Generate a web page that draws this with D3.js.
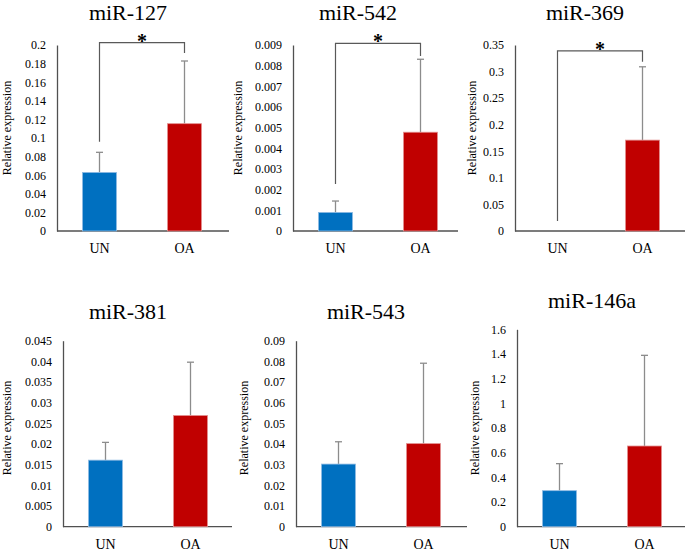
<!DOCTYPE html>
<html>
<head>
<meta charset="utf-8">
<script src="https://cdn.jsdelivr.net/npm/d3@7"></script>
<style>
  body { margin: 0; background: #fff; }
</style>
</head>
<body>
<div id="container"></div>
<script>
// values
var genes = ["miR-127", "miR-542", "miR-369", "miR-381", "miR-543", "miR-146a"];
var groups = ["UN", "OA"];
var unMean = [0.063, 0.0009, 0, 0.0161, 0.0303, 0.292];
var unErr  = [0.0216, 0.00055, 0, 0.0043, 0.0108, 0.219];
var oaMean = [0.1154, 0.00478, 0.171, 0.0269, 0.0402, 0.654];
var oaErr  = [0.0674, 0.00353, 0.138, 0.0129, 0.0389, 0.735];
var yMax   = [0.2, 0.009, 0.35, 0.045, 0.09, 1.6];
var yStep  = [0.02, 0.001, 0.05, 0.005, 0.01, 0.2];
// significance bracket: level, left leg end, right leg end (null = none)
var sigLevel = [0.2025, 0.00908, 0.339, null, null, null];
var sigLeft  = [0.096, 0.00227, 0.0188, null, null, null];
var sigRight = [0.1914, 0.00847, 0.3186, null, null, null];

var FONT = "Liberation Serif";
var colors = { UN: "#0070c0", OA: "#c00000" };
var edges  = { UN: "#8fbbe3", OA: "#e38f8f" };

// panel placement
var panels = [
  { ax: 57,  top: 45,    bottom: 231,   xEnd: 229, titleX: 128, titleY: 20,  labX: 10.5, labY: 128 },
  { ax: 293, top: 45,    bottom: 231,   xEnd: 458, titleX: 358, titleY: 20,  labX: 242,  labY: 128 },
  { ax: 515, top: 45,    bottom: 231,   xEnd: 685, titleX: 585, titleY: 20,  labX: 476,  labY: 128 },
  { ax: 63,  top: 340.7, bottom: 526.7, xEnd: 232, titleX: 128, titleY: 319, labX: 10.5, labY: 428 },
  { ax: 296, top: 340.7, bottom: 526.7, xEnd: 467, titleX: 366, titleY: 319, labX: 248,  labY: 428 },
  { ax: 517, top: 329.3, bottom: 526.7, xEnd: 685, titleX: 592, titleY: 308, labX: 479,  labY: 428 }
];

var svg = d3.select('#container')
  .append('svg')
  .attr('width', 685)
  .attr('height', 557)
  .attr('font-family', FONT);

svg.append('rect').attr('width', 685).attr('height', 557).attr('fill', '#fff');

var fmt = function(v) { return String(+v.toFixed(4)); };

genes.forEach(function(gene, i) {
  var p = panels[i];
  var g = svg.append('g');

  var y = d3.scaleLinear().domain([0, yMax[i]]).range([p.bottom, p.top]);
  var x = d3.scaleBand().domain(groups)
    .range([p.ax, p.ax + 170])
    .paddingInner(0.6).paddingOuter(0.3);

  var ticks = d3.range(0, yMax[i] + yStep[i] / 2, yStep[i]);

  // y axis
  var yAxis = g.append('g')
    .attr('transform', 'translate(' + p.ax + ',0)')
    .call(d3.axisLeft(y).tickValues(ticks).tickFormat(fmt).tickSize(0).tickSizeOuter(0).tickPadding(11));
  yAxis.attr('font-family', FONT);
  yAxis.select('.domain').attr('stroke', '#505050').attr('stroke-width', 1.3);
  yAxis.selectAll('text').attr('font-size', 12).attr('font-family', FONT).attr('fill', '#000');

  // x baseline
  g.append('line')
    .attr('x1', p.ax).attr('x2', p.xEnd)
    .attr('y1', p.bottom).attr('y2', p.bottom)
    .attr('stroke', '#505050').attr('stroke-width', 1.3);

  var xAxis = g.append('g')
    .attr('transform', 'translate(0,' + p.bottom + ')')
    .call(d3.axisBottom(x).tickSize(0).tickPadding(12));
  xAxis.attr('font-family', FONT);
  xAxis.select('.domain').remove();
  xAxis.selectAll('text').attr('font-size', 14).attr('font-family', FONT).attr('fill', '#000');

  var rows = [
    { k: 'UN', m: unMean[i], e: unErr[i] },
    { k: 'OA', m: oaMean[i], e: oaErr[i] }
  ];

  // error bars (drawn first so the bar covers the stem)
  rows.forEach(function(d) {
    if (d.e <= 0) return;
    var cx = x(d.k) + x.bandwidth() / 2;
    g.append('line')
      .attr('x1', cx).attr('x2', cx)
      .attr('y1', y(d.m)).attr('y2', y(d.m + d.e))
      .attr('stroke', '#8c8c8c').attr('stroke-width', 1.3);
    g.append('line')
      .attr('x1', cx - 3.5).attr('x2', cx + 3.5)
      .attr('y1', y(d.m + d.e)).attr('y2', y(d.m + d.e))
      .attr('stroke', '#8c8c8c').attr('stroke-width', 1.3);
  });

  g.selectAll('rect.bar').data(rows.filter(function(d) { return d.m > 0; }))
    .enter().append('rect')
    .attr('class', 'bar')
    .attr('x', function(d) { return x(d.k); })
    .attr('width', x.bandwidth())
    .attr('y', function(d) { return y(d.m); })
    .attr('height', function(d) { return p.bottom - y(d.m); })
    .attr('fill', function(d) { return colors[d.k]; })
    .attr('stroke', function(d) { return edges[d.k]; })
    .attr('stroke-width', 0.8);

  // significance bracket
  if (sigLevel[i] !== null) {
    var xl = x('UN') + x.bandwidth() / 2, xr = x('OA') + x.bandwidth() / 2;
    g.append('path')
      .attr('d', 'M' + xl + ',' + y(sigLeft[i]) + 'V' + y(sigLevel[i]) + 'H' + xr + 'V' + y(sigRight[i]))
      .attr('fill', 'none').attr('stroke', '#595959').attr('stroke-width', 1.2);
    g.append('text')
      .attr('x', (xl + xr) / 2).attr('y', y(sigLevel[i]) + 5)
      .attr('text-anchor', 'middle')
      .attr('font-family', FONT)
      .attr('font-size', 20).attr('font-weight', 'bold')
      .text('*');
  }

  // title
  g.append('text')
    .attr('x', p.titleX).attr('y', p.titleY)
    .attr('text-anchor', 'middle')
    .attr('font-family', FONT)
    .attr('font-size', 22)
    .text(gene);

  // y label
  g.append('text')
    .attr('transform', 'translate(' + p.labX + ',' + p.labY + ') rotate(-90)')
    .attr('text-anchor', 'middle')
    .attr('font-family', FONT)
    .attr('font-size', 12)
    .text('Relative expression');
});
</script>
</body>
</html>
